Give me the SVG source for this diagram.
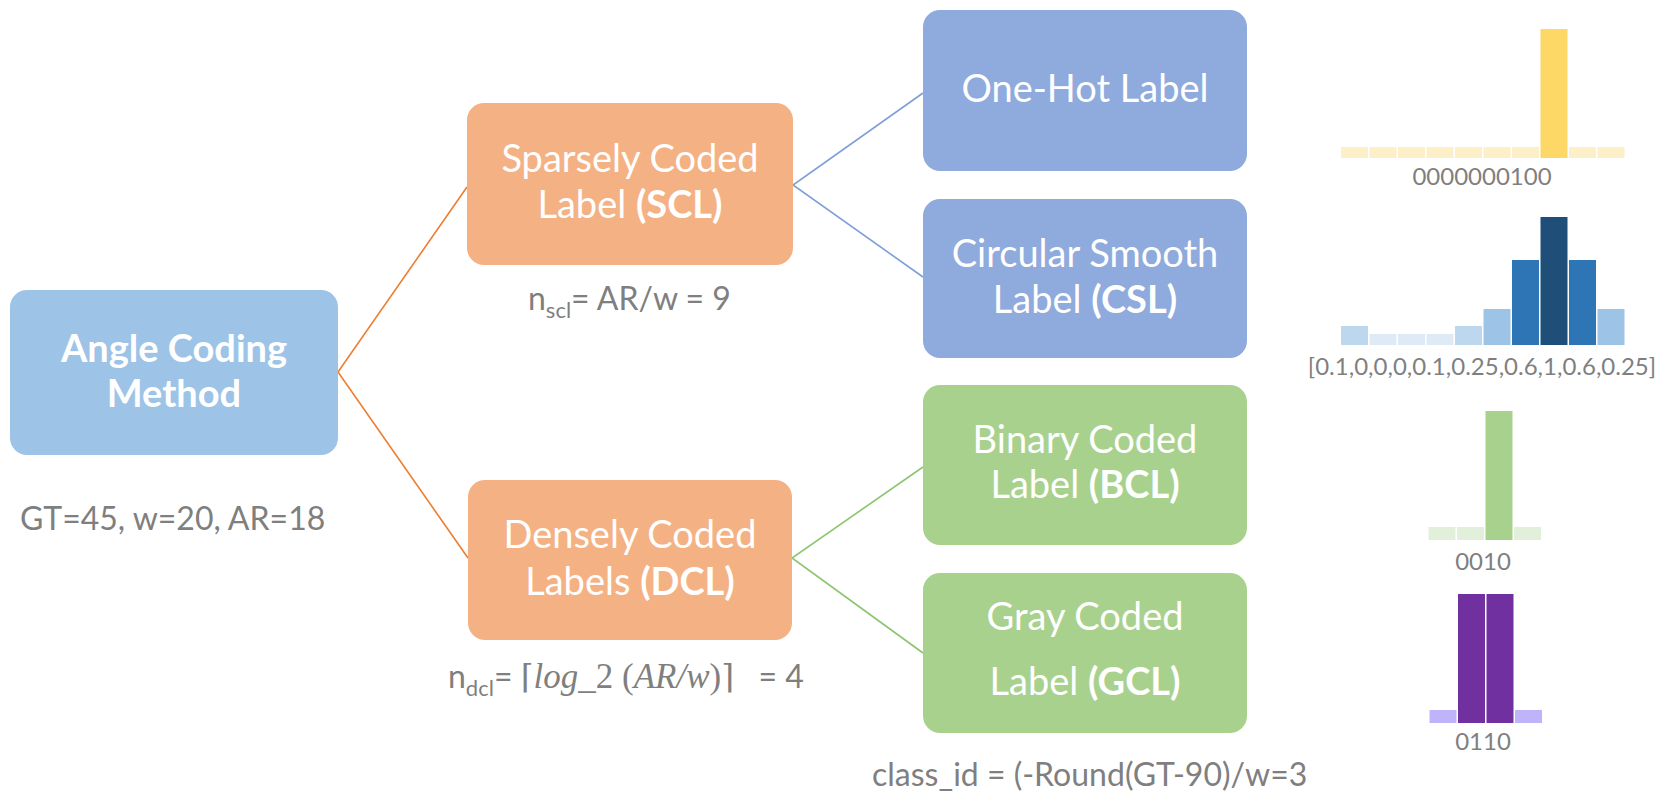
<svg xmlns="http://www.w3.org/2000/svg" width="1667" height="791" viewBox="0 0 1667 791">
<style>
.box{font-family:Lato,"Open Sans",sans-serif;font-size:38px;fill:#fff;text-anchor:middle}
.b{font-weight:bold}
.ann{font-family:Lato,"Open Sans",sans-serif;font-size:32px;fill:#7f7f7f}
.lab{font-family:Lato,"Open Sans",sans-serif;font-size:24px;fill:#7f7f7f;text-anchor:middle}
.math{font-family:"Liberation Serif",serif;font-style:italic;font-size:35px}
.up{font-family:"Liberation Serif",serif;font-size:35px}
.conn{fill:none;stroke-width:1.6}
</style>
<rect width="1667" height="791" fill="#fff"/>
<g id="connectors">
<polyline class="conn" stroke="#ED7D31" points="467,187 338,372 468,558"/>
<polyline class="conn" stroke="#7F9ED8" points="923,93 793,185 923,277"/>
<polyline class="conn" stroke="#8CC56E" points="923,467 792,558 923,653"/>
</g>
<g id="angle">
<rect x="10" y="290" width="328" height="165" rx="17" fill="#9DC3E6"/>
<text class="box b" x="174" y="362" font-size="39">Angle Coding</text>
<text class="box b" x="174" y="407" font-size="39">Method</text>
<text class="ann" x="20" y="530">GT=45, w=20, AR=18</text>
</g>
<g id="scl">
<rect x="467" y="103" width="326" height="162" rx="17" fill="#F4B183"/>
<text class="box" x="630" y="172">Sparsely Coded</text>
<text class="box" x="630" y="218">Label <tspan class="b">(SCL)</tspan></text>
<text class="ann" x="528" y="310">n<tspan font-size="22" dy="8">scl</tspan><tspan dy="-8">= AR/w = 9</tspan></text>
</g>
<g id="dcl">
<rect x="468" y="480" width="324" height="160" rx="17" fill="#F4B183"/>
<text class="box" x="630" y="548">Densely Coded</text>
<text class="box" x="630" y="595">Labels <tspan class="b">(DCL)</tspan></text>
<text class="ann" x="448" y="688">n<tspan font-size="22" dy="8">dcl</tspan><tspan dy="-8">= </tspan><tspan font-family="'DejaVu Serif',serif" font-size="33">⌈</tspan><tspan class="math">log</tspan><tspan class="up">_2 (</tspan><tspan class="math">AR/w</tspan><tspan class="up">)</tspan><tspan font-family="'DejaVu Serif',serif" font-size="33">⌉</tspan><tspan xml:space="preserve">   = 4</tspan></text>
</g>
<g id="onehot">
<rect x="923" y="10" width="324" height="161" rx="17" fill="#8FAADC"/>
<text class="box" x="1085" y="102">One-Hot Label</text>
</g>
<g id="csl">
<rect x="923" y="199" width="324" height="159" rx="17" fill="#8FAADC"/>
<text class="box" x="1085" y="267">Circular Smooth</text>
<text class="box" x="1085" y="313">Label <tspan class="b">(CSL)</tspan></text>
</g>
<g id="bcl">
<rect x="923" y="385" width="324" height="160" rx="17" fill="#A9D18E"/>
<text class="box" x="1085" y="453">Binary Coded</text>
<text class="box" x="1085" y="498">Label <tspan class="b">(BCL)</tspan></text>
</g>
<g id="gcl">
<rect x="923" y="573" width="324" height="160" rx="17" fill="#A9D18E"/>
<text class="box" x="1085" y="630">Gray Coded</text>
<text class="box" x="1085" y="695">Label <tspan class="b">(GCL)</tspan></text>
<text class="ann" x="872" y="786" font-size="33">class_id = (-Round(GT-90)/w=3</text>
</g>
<g id="chart-onehot">
<g fill="#FDF0C8">
<rect x="1341" y="147" width="27" height="11"/><rect x="1369.5" y="147" width="27" height="11"/><rect x="1398" y="147" width="27" height="11"/><rect x="1426.5" y="147" width="27" height="11"/><rect x="1455" y="147" width="27" height="11"/><rect x="1483.5" y="147" width="27" height="11"/><rect x="1512" y="147" width="27" height="11"/><rect x="1569" y="147" width="27" height="11"/><rect x="1597.5" y="147" width="27" height="11"/>
</g>
<rect x="1540.5" y="29" width="27" height="129" fill="#FDD866"/>
<text class="lab" x="1482" y="185">0000000100</text>
</g>
<g id="chart-csl">
<rect x="1341" y="326" width="27" height="19" fill="#BDD7EE"/>
<rect x="1369.5" y="334" width="27" height="11" fill="#DEEBF7"/>
<rect x="1398" y="334" width="27" height="11" fill="#DEEBF7"/>
<rect x="1426.5" y="334" width="27" height="11" fill="#DEEBF7"/>
<rect x="1455" y="326" width="27" height="19" fill="#BDD7EE"/>
<rect x="1483.5" y="309" width="27" height="36" fill="#9DC3E6"/>
<rect x="1512" y="260" width="27" height="85" fill="#2E75B6"/>
<rect x="1540.5" y="217" width="27" height="128" fill="#1F4E79"/>
<rect x="1569" y="260" width="27" height="85" fill="#2E75B6"/>
<rect x="1597.5" y="309" width="27" height="36" fill="#9DC3E6"/>
<text class="lab" x="1482" y="375" font-size="25">[0.1,0,0,0,0.1,0.25,0.6,1,0.6,0.25]</text>
</g>
<g id="chart-bcl">
<rect x="1428.5" y="527" width="27" height="13" fill="#E2EFDA"/>
<rect x="1457" y="527" width="27" height="13" fill="#E2EFDA"/>
<rect x="1485.5" y="411" width="27" height="129" fill="#A9D18E"/>
<rect x="1514" y="527" width="27" height="13" fill="#E2EFDA"/>
<text class="lab" x="1483" y="570">0010</text>
</g>
<g id="chart-gcl">
<rect x="1429.5" y="710" width="27" height="13" fill="#BFB3F9"/>
<rect x="1458" y="594" width="27" height="129" fill="#7030A0"/>
<rect x="1486.5" y="594" width="27" height="129" fill="#7030A0"/>
<rect x="1515" y="710" width="27" height="13" fill="#BFB3F9"/>
<text class="lab" x="1483" y="750">0110</text>
</g>
</svg>
